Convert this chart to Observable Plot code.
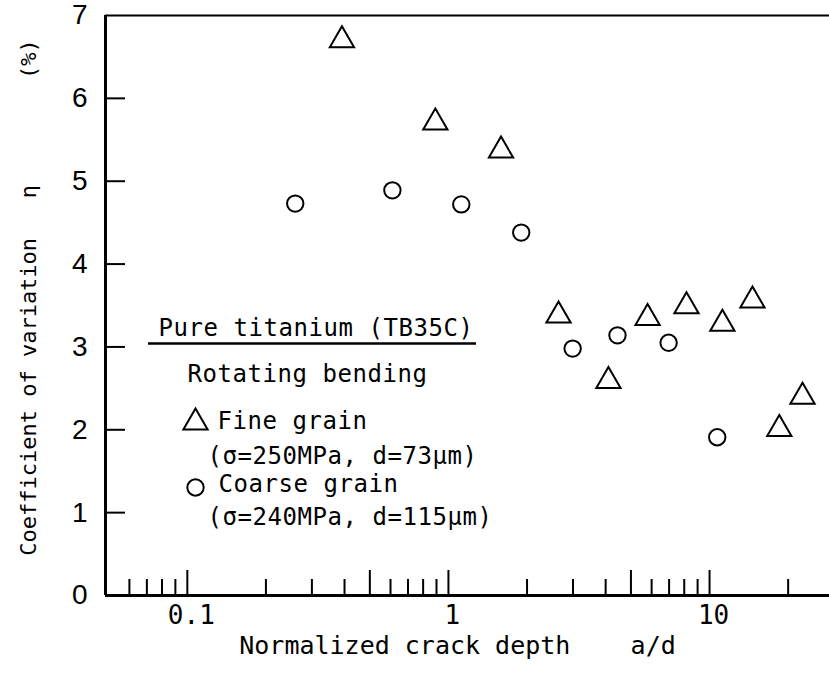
<!DOCTYPE html>
<html><head><meta charset="utf-8">
<script src="https://cdn.jsdelivr.net/npm/d3@7"></script>
<script src="https://cdn.jsdelivr.net/npm/@observablehq/plot@0.6"></script>
<style>body{margin:0;background:#fff} svg{display:block}</style>
</head><body><div id="chart"></div>
<script>
// Fine grain (triangles)
const fineX = [0.391, 0.891, 1.59, 2.64, 4.10, 5.79, 8.16, 11.2, 14.6, 18.5, 22.7];
const fineY = [6.70, 5.71, 5.37, 3.38, 2.59, 3.35, 3.49, 3.28, 3.56, 2.01, 2.40];
// Coarse grain (circles)
const coarseX = [0.259, 0.610, 1.12, 1.90, 2.99, 4.44, 6.97, 10.7];
const coarseY = [4.73, 4.89, 4.72, 4.38, 2.98, 3.14, 3.05, 1.91];
// Axes
const xDomain = [0.0486, 28.8];
const yDomain = [0, 7];
const yTicks = [0, 1, 2, 3, 4, 5, 6, 7];
const xLabelTicks = [0.1, 1, 10];
const xLabelText = ["0.1", "1", "10"];
const xMajorTicks = [0.1, 0.5, 1, 5, 10];
const xMinorTicks = [0.06, 0.07, 0.08, 0.09, 0.2, 0.3, 0.4, 0.6, 0.7, 0.8, 0.9, 2, 3, 4, 6, 7, 8, 9, 20];
const xTitle = "Normalized crack depth\u00a0\u00a0\u00a0\u00a0a/d";
const yTitle = "Coefficient\u00a0of\u00a0variation\u00a0\u00a0\u00a0η\u00a0\u00a0\u00a0\u00a0\u00a0\u00a0\u00a0\u00a0(%)";
// Legend
const legendTitle = "Pure titanium (TB35C)";
const legendSub = "Rotating bending";
const fineLabel = "Fine grain";
const fineNote = "(σ=250MPa, d=73μm)";
const coarseLabel = "Coarse grain";
const coarseNote = "(σ=240MPa, d=115μm)";

const fine = fineX.map((x, i) => ({x, y: fineY[i]}));
const coarse = coarseX.map((x, i) => ({x, y: coarseY[i]}));
const labelMap = new Map(xLabelTicks.map((t, i) => [t, xLabelText[i]]));

const mono = "DejaVu Sans Mono";
const lt = (txt, dx, dy) => Plot.text([txt], {
  text: d => d, frameAnchor: "top-left", dx, dy, textAnchor: "start", lineAnchor: "middle",
  fontSize: 24, fontFamily: mono, fill: "#000"
});

const chart = Plot.plot({
  width: 829, height: 676,
  marginLeft: 105, marginRight: 0, marginTop: 15, marginBottom: 81,
  x: {type: "log", domain: xDomain, label: null},
  y: {domain: yDomain, label: null},
  style: {background: "#fff", color: "#000"},
  marks: [
    Plot.axisY(yTicks, {tickSize: 0, tickPadding: 18, tickFormat: d => String(d), fontSize: 28, fontFamily: "Liberation Sans", label: null}),
    Plot.axisY(yTicks.slice(1, -1), {tickSize: -20, tickFormat: () => "", strokeWidth: 2, label: null}),
    Plot.axisX(xLabelTicks, {tickSize: 0, tickPadding: 10, tickFormat: d => labelMap.get(d), fontSize: 26, fontFamily: mono, dx: 4, label: null}),
    Plot.axisX(xMajorTicks, {tickSize: -25, tickFormat: () => "", strokeWidth: 2, label: null}),
    Plot.axisX(xMinorTicks, {tickSize: -16, tickFormat: () => "", strokeWidth: 2, label: null}),
    Plot.ruleX([xDomain[0]], {strokeWidth: 3}),
    Plot.ruleY([yDomain[0]], {strokeWidth: 3}),
    Plot.ruleY([yDomain[1]], {strokeWidth: 2}),
    Plot.dot(fine, {x: "x", y: "y", symbol: "triangle", r: 9, stroke: "#000", strokeWidth: 2, fill: "none"}),
    Plot.dot(coarse, {x: "x", y: "y", symbol: "circle", r: 8.2, stroke: "#000", strokeWidth: 2, fill: "none"}),
    Plot.text([xTitle], {text: d => d, frameAnchor: "bottom", textAnchor: "middle", dx: -10, dy: 50, lineAnchor: "middle", fontSize: 25, fontFamily: mono, fill: "#000"}),
    Plot.text([yTitle], {text: d => d, frameAnchor: "left", textAnchor: "middle", rotate: -90, dx: -77, dy: -8, lineAnchor: "middle", fontSize: 22, fontFamily: mono, fill: "#000"}),
    lt(legendTitle, 53, 313),
    Plot.ruleY([3.041], {x1: 0.0710, x2: 1.281, strokeWidth: 2.5}),
    lt(legendSub, 82, 359),
    Plot.dot([0], {frameAnchor: "top-left", dx: 90, dy: 407, symbol: "triangle", r: 9, stroke: "#000", strokeWidth: 2, fill: "none"}),
    lt(fineLabel, 112, 406),
    lt(fineNote, 102, 441),
    Plot.dot([0], {frameAnchor: "top-left", dx: 90, dy: 472, symbol: "circle", r: 8.2, stroke: "#000", strokeWidth: 2, fill: "none"}),
    lt(coarseLabel, 113, 469),
    lt(coarseNote, 102, 502)
  ]
});
// widen the legend's monospace text slightly to match the reference's letter pitch
d3.select(chart).selectAll('g[font-size="24"]').style("letter-spacing", "0.55px");
document.getElementById("chart").append(chart);
</script>
</body></html>
